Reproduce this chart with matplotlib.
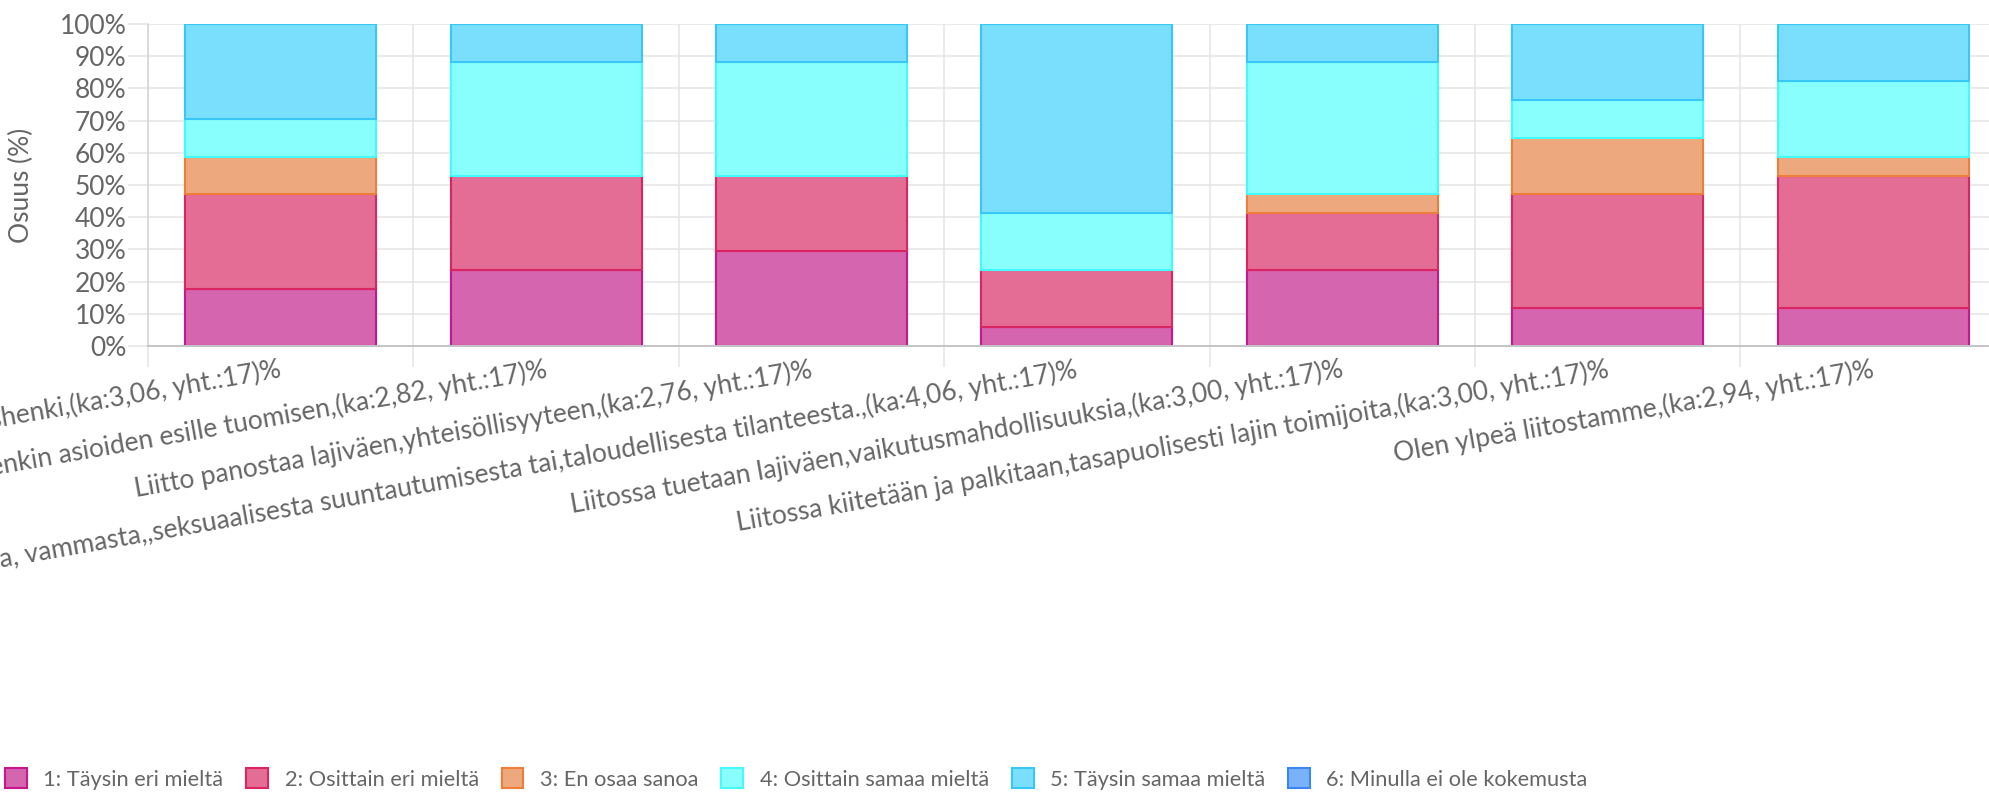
import matplotlib
matplotlib.use("Agg")
import matplotlib.pyplot as plt
from matplotlib.patches import Patch
import numpy as np

# statements (x axis) -- left part of the long ones is cut off by the canvas edge
categories = [
    "Liitossa vallitsee hyvä yhteishenki,(ka:3,06, yht.:17)%",
    "Liitto mahdollistaa vaikeidenkin asioiden esille tuomisen,(ka:2,82, yht.:17)%",
    "Liitto panostaa lajiväen,yhteisöllisyyteen,(ka:2,76, yht.:17)%",
    "Liitossa syrjitään henkilöitä sukupuolesta, iästä, alkuperästä, terveydentilasta, "
    "vammasta,,seksuaalisesta suuntautumisesta tai,taloudellisesta tilanteesta.,(ka:4,06, yht.:17)%",
    "Liitossa tuetaan lajiväen,vaikutusmahdollisuuksia,(ka:3,00, yht.:17)%",
    "Liitossa kiitetään ja palkitaan,tasapuolisesti lajin toimijoita,(ka:3,00, yht.:17)%",
    "Olen ylpeä liitostamme,(ka:2,94, yht.:17)%",
]

# share of answers (%), n = 17 per statement
taysin_eri = [17.65, 23.53, 29.41, 5.88, 23.53, 11.76, 11.76]
osittain_eri = [29.41, 29.41, 23.53, 17.65, 17.65, 35.29, 41.18]
ei_osaa_sanoa = [11.76, 0.0, 0.0, 0.0, 5.88, 17.65, 5.88]
osittain_samaa = [11.76, 35.29, 35.29, 17.65, 41.18, 11.76, 23.53]
taysin_samaa = [29.41, 11.76, 11.76, 58.82, 11.76, 23.53, 17.65]
ei_kokemusta = [0.0, 0.0, 0.0, 0.0, 0.0, 0.0, 0.0]

series_labels = [
    "1: Täysin eri mieltä",
    "2: Osittain eri mieltä",
    "3: En osaa sanoa",
    "4: Osittain samaa mieltä",
    "5: Täysin samaa mieltä",
    "6: Minulla ei ole kokemusta",
]
y_ticks = [0, 10, 20, 30, 40, 50, 60, 70, 80, 90, 100]

fills = ["#d665b0", "#e46d95", "#eea87e", "#88fffc", "#7adffd", "#7ab2fa"]
edges = ["#c8168c", "#db2563", "#ee7d3a", "#44fbfb", "#38c8f8", "#3a86f2"]

TEXT = "#666666"
GRID = "#e4e4e4"
FS = 19
plt.rcParams["font.family"] = ["Lato", "DejaVu Sans"]

W, H = 1990, 792
fig = plt.figure(figsize=(W / 100, H / 100), dpi=100)
# plot area runs past the right edge of the canvas, like the original
left, right_px, top, bottom = 148, 148 + 7 * 265.4, 24, 346
ax = fig.add_axes([left / W, 1 - bottom / H, (right_px - left) / W, (bottom - top) / H])

x = np.arange(len(categories))
series = [taysin_eri, osittain_eri, ei_osaa_sanoa, osittain_samaa, taysin_samaa, ei_kokemusta]
base = np.zeros(len(categories))
for vals, fc, ec in zip(series, fills, edges):
    vals = np.asarray(vals, dtype=float)
    lw = np.where(vals > 0, 1.5, 0.0)
    ax.bar(x, vals, width=0.72, bottom=base, color=fc, edgecolor=ec, linewidth=lw, zorder=2)
    base += vals

ax.set_xlim(-0.5, len(categories) - 0.5)
ax.set_ylim(0, 100)
ax.set_axisbelow(True)

ax.set_yticks(y_ticks, [f"{v}%" for v in y_ticks])
ax.set_xticks(x, categories, rotation=10, ha="right", va="center_baseline",
              rotation_mode="anchor")
ax.set_xticks(np.arange(len(categories) + 1) - 0.5, minor=True)

ax.grid(axis="y", which="major", color=GRID, linewidth=1.1)
ax.grid(axis="x", which="minor", color=GRID, linewidth=1.1)
ax.tick_params(axis="y", length=14.5, width=1.1, color=GRID, pad=1,
               labelsize=FS, labelcolor=TEXT)
ax.tick_params(axis="x", which="major", length=0, pad=15, labelsize=FS, labelcolor=TEXT)
ax.tick_params(axis="x", which="minor", length=15, width=1.1, color=GRID)

for side in ("top", "right"):
    ax.spines[side].set_visible(False)
ax.spines["left"].set_color("#d4d4d4")
ax.spines["left"].set_linewidth(1.1)
ax.spines["bottom"].set_color("#c4c4c4")
ax.spines["bottom"].set_linewidth(1.4)

ax.set_ylabel("Osuus (%)", fontsize=FS, color=TEXT)
ax.yaxis.set_label_coords(-(left - 34) / (right_px - left), 0.5)

handles = [Patch(facecolor=fc, edgecolor=ec, linewidth=1.5) for fc, ec in zip(fills, edges)]
fig.legend(handles, series_labels, loc="center left", bbox_to_anchor=(5 / W, 1 - 779 / H),
           ncol=6, frameon=False, fontsize=15.7, labelcolor=TEXT,
           handlelength=1.0, handleheight=1.05, handletextpad=0.76,
           columnspacing=1.05, borderpad=0, borderaxespad=0)

fig.savefig("out.png", dpi=100)
